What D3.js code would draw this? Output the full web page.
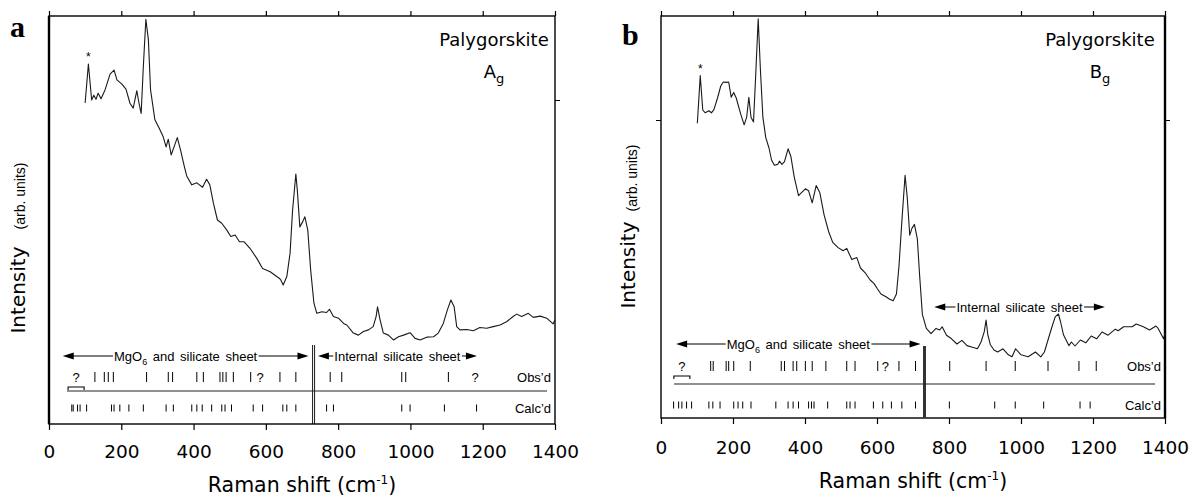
<!DOCTYPE html>
<html>
<head>
<meta charset="utf-8">
<script src="https://cdn.jsdelivr.net/npm/d3@7"></script>
<style>
  body { margin: 0; background: #fff; }
  svg { display: block; }
</style>
</head>
<body>
<svg id="chart" width="1192" height="497"></svg>
<script>
// ---- data ----
const ramanTicks = [0, 200, 400, 600, 800, 1000, 1200, 1400];

// panel a : Ag spectrum (Raman shift, arb. intensity)
const shiftA = [100,109,118,124,130,136,144,155,169,180,188,201,213,224,233,243,249,255,261,268,
  275,281,293,305,316,324,330,338,346,355,364,374,381,395,409,425,436,445,455,466,
  478,492,503,515,527,540,556,575,591,612,630,637,641,648,658,667,674,683,687,694,
  702,708,716,724,733,741,755,768,776,787,801,815,824,842,856,870,884,897,905,909,
  916,925,939,953,967,981,999,1013,1027,1045,1064,1077,1091,1102,1112,1121,1128,1137,1156,1174,
  1192,1211,1229,1248,1266,1284,1294,1308,1326,1340,1359,1377,1395,1400];
const intensityA = [78.5,88.1,79.2,80.4,79.4,80.9,79.5,81.7,85.6,86.6,84.2,83.2,81.9,78.4,77.2,81.5,78.4,75.9,87.5,99.2,
  94.1,81.7,74.3,72.2,70.1,67.6,69.5,65.6,67.6,69.9,66.8,62.9,60.4,58.2,58.7,57.6,59.6,58.2,53.6,49.5,
  48.7,47.0,45.4,45.8,44.1,44.1,42.5,40.0,37.5,36.7,35.5,35.1,34.7,33.4,35.5,41.3,52.0,60.9,56.9,47.8,
  49.1,50.3,47.0,37.1,28.9,26.4,26.8,26.6,27.4,25.6,25.2,23.9,23.5,21.5,21.0,21.9,22.3,23.1,25.6,28.0,
  24.8,21.5,21.0,19.8,20.6,21.0,21.6,20.2,19.8,20.5,20.6,21.5,23.9,27.2,29.7,28.0,23.1,22.3,22.4,22.1,
  22.9,22.7,23.1,23.5,24.3,25.6,26.2,25.6,26.4,25.4,25.7,25.2,23.8,24.8];

// panel b : Bg spectrum
const shiftB = [101,109,116,123,133,140,147,157,166,173,181,188,195,202,209,221,231,238,244,250,
  257,263,270,276,283,291,300,307,315,324,329,336,343,353,361,370,382,391,401,410,
  420,431,441,453,466,477,492,506,516,530,544,554,568,581,592,601,611,625,635,645,
  654,661,669,678,684,691,697,704,712,718,726,737,750,764,774,781,793,807,822,836,
  850,865,879,889,898,903,908,915,925,935,950,965,975,985,1000,1020,1040,1055,1065,1075,
  1085,1095,1104,1110,1118,1133,1140,1150,1165,1180,1195,1210,1225,1242,1262,1270,1285,1309,1320,1340,
  1357,1375,1381,1396,1400];
const intensityB = [73.2,85.1,76.5,75.8,76.3,75.8,76.6,79.5,82.5,83.5,83.4,83.5,79.7,80.9,79.5,75.6,72.8,74.7,79.7,74.7,
  73.5,85.1,99.3,86.8,74.7,69.6,67.0,64.0,62.7,62.9,63.7,62.9,63.6,66.8,64.8,59.8,55.1,55.9,56.8,56.3,
  53.3,57.6,55.9,50.3,46.0,43.4,42.1,41.3,41.9,39.1,39.6,37.0,35.7,34.0,33.1,31.8,30.5,29.8,29.2,28.8,
  30.5,37.4,48.6,60.2,54.6,45.2,46.9,47.9,44.3,35.7,25.4,21.9,20.6,21.9,21.5,22.3,20.2,19.3,18.0,18.9,
  17.6,17.2,16.8,18.5,21.1,24.0,20.2,17.8,16.5,16.0,16.8,15.3,14.8,16.8,15.3,14.8,16.0,14.8,16.0,19.0,
  22.0,24.8,25.5,23.5,20.3,17.6,18.5,17.5,19.0,18.3,20.0,19.3,21.0,20.2,21.7,21.3,22.3,22.3,23.0,22.3,
  21.5,22.5,21.9,19.3,20.8];

// observed / calculated band positions (cm-1)
const obsA = [127,153,164,178,270,330,342,409,427,473,481,490,510,558,639,683,778,810,976,987,1105];
const obsUnsureA = [75,584,1179];
const calcA = [63,67,79,86,104,173,180,196,221,261,324,344,395,409,424,450,478,487,505,565,591,647,658,683,768,787,976,999,1094,1183];

const obsB = [138,145,181,188,202,248,334,343,367,377,401,420,458,516,539,602,661,707,802,903,984,1075,1161,1209];
const obsUnsureB = [58,623];
const calcB = [35,49,58,71,85,133,144,164,202,214,227,250,319,353,367,382,410,418,425,463,516,525,539,590,616,640,669,707,801,927,984,1063,1164,1192];

// region ranges (cm-1)
const regionsA = [
  { name: "MgO", sub: "6", rest: " and silicate sheet", from: 38, to: 718 },
  { name: "Internal silicate sheet", sub: "", rest: "", from: 744, to: 1184 }
];
const regionsB = [
  { name: "MgO", sub: "6", rest: " and silicate sheet", from: 42, to: 721 },
  { name: "Internal silicate sheet", sub: "", rest: "", from: 759, to: 1233 }
];
const boundary = 732;

const svg = d3.select('#chart');

function drawPanel(cfg) {
  const g = svg.append('g');
  const x = d3.scaleLinear().domain([0, 1400]).range([cfg.left, cfg.right]);
  const y = d3.scaleLinear().domain([cfg.yMin, 100]).range([cfg.bottom, cfg.top]);

  // frame
  g.append('rect')
    .attr('x', cfg.left).attr('y', cfg.top)
    .attr('width', cfg.right - cfg.left).attr('height', cfg.bottom - cfg.top)
    .attr('fill', 'none').attr('stroke', '#000').attr('stroke-width', 1.4);
  g.append('line')
    .attr('x1', cfg.heavySide).attr('x2', cfg.heavySide)
    .attr('y1', cfg.top).attr('y2', cfg.bottom)
    .attr('stroke', '#000').attr('stroke-width', 2.4);

  // x axes
  const gb = g.append('g').attr('transform', `translate(0,${cfg.bottom})`)
    .call(d3.axisBottom(x).tickValues(ramanTicks).tickSizeInner(6).tickSizeOuter(0).tickFormat(d3.format('d')));
  gb.select('.domain').remove();
  gb.selectAll('line').attr('stroke', '#000').attr('stroke-width', 1.2);
  gb.selectAll('text')
    .attr('y', cfg.tickLabelGap).attr('dy', '0.35em')
    .attr('fill', '#000')
    .style('font-family', '"DejaVu Sans", Verdana, sans-serif')
    .style('font-size', '18.5px');

  const gt = g.append('g').attr('transform', `translate(0,${cfg.top})`)
    .call(d3.axisTop(x).tickValues(ramanTicks).tickSizeInner(5).tickSizeOuter(0).tickFormat(''));
  gt.select('.domain').remove();
  gt.selectAll('line').attr('stroke', '#000').attr('stroke-width', 1.2);

  // y ticks (no labels)
  if (cfg.leftTicks.length) {
    const gl = g.append('g').attr('transform', `translate(${cfg.left},0)`)
      .call(d3.axisLeft(y).tickValues(cfg.leftTicks).tickSize(5).tickFormat(''));
    gl.select('.domain').remove();
    gl.selectAll('line').attr('stroke', '#000');
  }
  if (cfg.rightTicks.length) {
    const gr = g.append('g').attr('transform', `translate(${cfg.right},0)`)
      .call(d3.axisRight(y).tickValues(cfg.rightTicks).tickSize(5).tickFormat(''));
    gr.select('.domain').remove();
    gr.selectAll('line').attr('stroke', '#000');
  }

  // spectrum
  const pts = cfg.shift.map((s, i) => [s, cfg.intensity[i]]);
  const line = d3.line().x(d => x(d[0])).y(d => y(d[1]));
  g.append('path').datum(pts)
    .attr('d', line)
    .attr('fill', 'none').attr('stroke', '#1a1a1a').attr('stroke-width', 1.1)
    .attr('stroke-linejoin', 'round');

  // asterisk over the 109 cm-1 band
  const star = pts[1];
  g.append('text').attr('x', x(star[0])).attr('y', y(star[1]) - 3)
    .attr('text-anchor', 'middle')
    .style('font-family', 'Liberation Sans, Arial, sans-serif').style('font-size', '12px')
    .text('*');

  // title
  g.append('text').attr('x', cfg.titleX).attr('y', 46)
    .attr('text-anchor', 'middle')
    .style('font-family', '"DejaVu Sans", Verdana, sans-serif').style('font-size', '18px')
    .text('Palygorskite');
  const sym = g.append('text').attr('x', cfg.titleX).attr('y', 78)
    .attr('text-anchor', 'middle')
    .style('font-family', '"DejaVu Sans", Verdana, sans-serif').style('font-size', '18px');
  sym.append('tspan').text(cfg.sym);
  sym.append('tspan').attr('dy', 5).style('font-size', '13px').text('g');

  // panel letter
  g.append('text').attr('x', cfg.letterX).attr('y', cfg.letterY)
    .style('font-family', '"Liberation Serif", "Times New Roman", serif')
    .style('font-size', '30px').style('font-weight', 'bold')
    .text(cfg.letter);

  // axis titles
  const xt = g.append('text').attr('x', (cfg.left + cfg.right) / 2).attr('y', cfg.xTitleY)
    .attr('text-anchor', 'middle')
    .style('font-family', '"DejaVu Sans", Verdana, sans-serif').style('font-size', '20.5px');
  xt.append('tspan').text('Raman shift (cm');
  xt.append('tspan').attr('dy', -8).style('font-size', '12px').text('-1');
  xt.append('tspan').attr('dy', 8).text(')');

  g.append('text')
    .attr('transform', `translate(${cfg.yTitleX},${cfg.yTitleY}) rotate(-90)`)
    .attr('text-anchor', 'middle')
    .style('font-family', '"DejaVu Sans", Verdana, sans-serif').style('font-size', '20px')
    .text('Intensity');
  g.append('text')
    .attr('transform', `translate(${cfg.yUnitX},${cfg.yUnitY}) rotate(-90)`)
    .attr('text-anchor', 'middle')
    .style('font-family', '"Liberation Sans", Arial, sans-serif').style('font-size', '14px')
    .text('(arb. units)');

  // region divider
  if (cfg.doubleDivider) {
    [-1, 1].forEach(o => {
      g.append('line')
        .attr('x1', x(boundary) + o).attr('x2', x(boundary) + o)
        .attr('y1', cfg.dividerTop).attr('y2', cfg.bottom)
        .attr('stroke', '#000').attr('stroke-width', 0.9);
    });
  } else {
    g.append('line')
      .attr('x1', x(boundary)).attr('x2', x(boundary))
      .attr('y1', cfg.dividerTop).attr('y2', cfg.bottom)
      .attr('stroke', '#333').attr('stroke-width', 3);
  }

  // region arrows
  cfg.regions.forEach((r, i) => {
    const ay = cfg.arrowY[i];
    const x1 = x(r.from), x2 = x(r.to);
    const t = g.append('text').attr('x', (x1 + x2) / 2).attr('y', ay).attr('dy', '0.35em')
      .attr('text-anchor', 'middle')
      .style('font-family', '"Liberation Sans", Arial, sans-serif').style('font-size', '13px')
      .style('word-spacing', '2px');
    t.append('tspan').text(r.name);
    if (r.sub) {
      t.append('tspan').attr('dy', 4).style('font-size', '9px').text(r.sub);
      t.append('tspan').attr('dy', -4).text(r.rest);
    }
    const bb = t.node().getBBox();
    g.append('line').attr('x1', x1 + 6).attr('x2', bb.x - 1).attr('y1', ay).attr('y2', ay)
      .attr('stroke', '#000').attr('stroke-width', 1);
    g.append('line').attr('x1', bb.x + bb.width + 1).attr('x2', x2 - 6).attr('y1', ay).attr('y2', ay)
      .attr('stroke', '#000').attr('stroke-width', 1);
    g.append('path').attr('d', `M${x1},${ay}L${x1 + 11},${ay - 3.5}L${x1 + 11},${ay + 3.5}Z`).attr('fill', '#000');
    g.append('path').attr('d', `M${x2},${ay}L${x2 - 11},${ay - 3.5}L${x2 - 11},${ay + 3.5}Z`).attr('fill', '#000');
  });

  // observed and calculated bands
  g.selectAll('.obs').data(cfg.obs).enter().append('line')
    .attr('x1', d => x(d)).attr('x2', d => x(d))
    .attr('y1', cfg.obsY - 5).attr('y2', cfg.obsY + 5)
    .attr('stroke', '#000').attr('stroke-width', 1);
  g.selectAll('.unsure').data(cfg.unsure).enter().append('text')
    .attr('x', d => x(d)).attr('y', cfg.obsY).attr('dy', '0.35em')
    .attr('text-anchor', 'middle')
    .style('font-family', '"Liberation Sans", Arial, sans-serif').style('font-size', '13px')
    .text('?');
  const bx1 = x(cfg.unsure[0]) - 8, bx2 = x(cfg.unsure[0]) + 8;
  g.append('path')
    .attr('d', `M${bx1},${cfg.obsY + 13}L${bx1},${cfg.obsY + 10}L${bx2},${cfg.obsY + 10}L${bx2},${cfg.obsY + 13}`)
    .attr('fill', 'none').attr('stroke', '#000').attr('stroke-width', 1.1);

  g.append('line')
    .attr('x1', cfg.left + cfg.sepInset[0]).attr('x2', cfg.right - cfg.sepInset[1])
    .attr('y1', cfg.sepY).attr('y2', cfg.sepY)
    .attr('stroke', '#222').attr('stroke-width', 1.1);

  g.selectAll('.calc').data(cfg.calc).enter().append('line')
    .attr('x1', d => x(d)).attr('x2', d => x(d))
    .attr('y1', cfg.calcY - 3.5).attr('y2', cfg.calcY + 3.5)
    .attr('stroke', '#000').attr('stroke-width', 1);

  [['Obs\u2019d', cfg.obsY], ['Calc\u2019d', cfg.calcY]].forEach(([lab, yy]) => {
    g.append('text').attr('x', cfg.right - 4).attr('y', yy).attr('dy', '0.35em')
      .attr('text-anchor', 'end')
      .style('font-family', '"Liberation Sans", Arial, sans-serif').style('font-size', '13px')
      .text(lab);
  });
}

drawPanel({
  letter: 'a', letterX: 10, letterY: 37,
  left: 49, right: 555, top: 16, bottom: 424, yMin: -1, heavySide: 49,
  tickLabelGap: 28, xTitleY: 492,
  yTitleX: 25, yTitleY: 290, yUnitX: 25, yUnitY: 196,
  titleX: 494, sym: 'A',
  leftTicks: [], rightTicks: [79.2],
  shift: shiftA, intensity: intensityA,
  regions: regionsA, arrowY: [356, 356],
  doubleDivider: true, dividerTop: 345,
  obs: obsA, unsure: obsUnsureA, obsY: 377,
  sepY: 391, sepInset: [18, 8],
  calc: calcA, calcY: 408
});

drawPanel({
  letter: 'b', letterX: 622, letterY: 45,
  left: 661, right: 1165, top: 16, bottom: 418, yMin: -0.5, heavySide: 1165,
  tickLabelGap: 30, xTitleY: 488,
  yTitleX: 635, yTitleY: 265, yUnitX: 637, yUnitY: 178,
  titleX: 1100, sym: 'B',
  leftTicks: [74], rightTicks: [74],
  shift: shiftB, intensity: intensityB,
  regions: regionsB, arrowY: [344, 307],
  doubleDivider: false, dividerTop: 346,
  obs: obsB, unsure: obsUnsureB, obsY: 366,
  sepY: 384, sepInset: [13, 10],
  calc: calcB, calcY: 405
});
</script>
</body>
</html>
